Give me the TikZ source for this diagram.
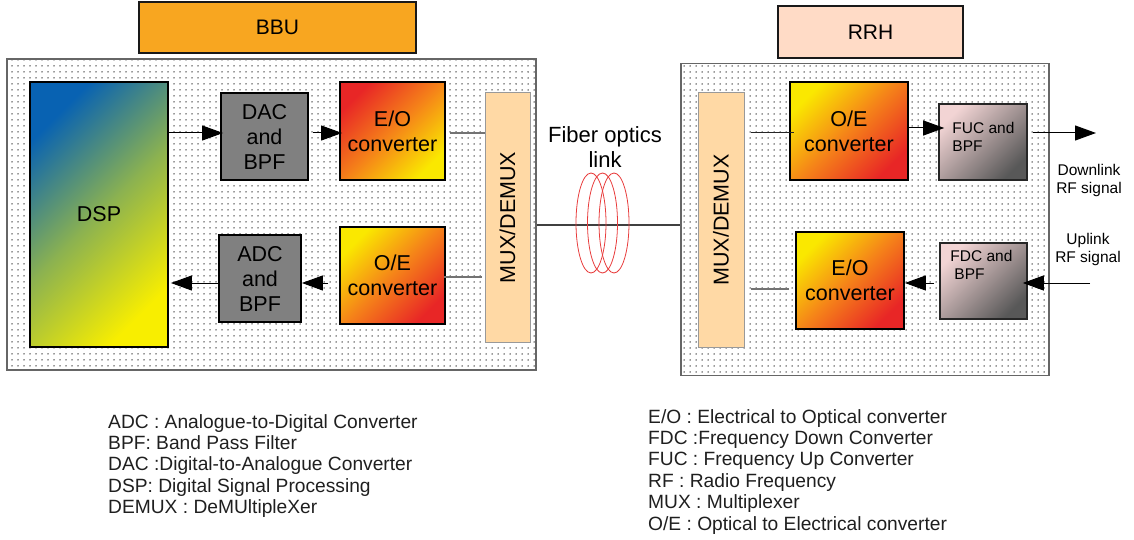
\documentclass[tikz,border=0pt]{standalone}
\usepackage{fontspec}
\setmainfont{Liberation Sans}
\usetikzlibrary{arrows.meta,patterns.meta,calc}
\definecolor{bbuorange}{RGB}{248,166,32}
\definecolor{rrhpeach}{RGB}{255,219,198}
\definecolor{muxfill}{RGB}{255,217,165}
\definecolor{cred}{RGB}{232,38,38}
\definecolor{corange}{RGB}{245,130,25}
\definecolor{cyellow}{RGB}{250,232,0}
\definecolor{dblue}{RGB}{8,98,178}
\definecolor{dgreen}{RGB}{140,178,80}
\definecolor{dyellow}{RGB}{248,238,0}
\definecolor{fpink}{RGB}{242,212,212}
\definecolor{fdark}{RGB}{88,88,88}
\definecolor{coilred}{RGB}{232,60,60}
\begin{document}
\begin{tikzpicture}[x=1pt,y=-1pt,
  cont/.style={draw=black!60, line width=1.2pt, pattern={Dots[distance=6pt,radius=0.75pt]}, pattern color=black!80, inner sep=0pt},
  title/.style={draw=black!90, line width=1.8pt, inner sep=0pt, font=\fontsize{21}{25}\selectfont},
  blk/.style={draw=black, line width=1.8pt, inner sep=0pt, align=center, font=\fontsize{21.5}{25}\selectfont},
  grayblk/.style={blk, fill=black!50},
  redyel/.style={blk, top color=cred, bottom color=cyellow, middle color=corange, shading angle=45},
  yelred/.style={blk, top color=cyellow, bottom color=cred, middle color=corange, shading angle=45},
  dspblk/.style={blk, top color=dblue, bottom color=dyellow, middle color=dgreen, shading angle=45},
  fblk/.style={draw=black!85, line width=1.6pt, inner sep=0pt, top color=fpink, bottom color=fdark, shading angle=45},
  muxblk/.style={draw=black!40, line width=1pt, fill=muxfill, inner sep=0pt},
  smalltxt/.style={font=\fontsize{15.5}{18}\selectfont, align=left, inner sep=0pt},
  arr/.style={draw=black, line width=1pt, -{Triangle[length=21pt,width=15pt]}},
  glink/.style={draw=black!55, line width=1.3pt},
  coil/.style={draw=coilred, line width=0.8pt},
  legend/.style={font=\fontsize{19.2}{21.4}\selectfont, align=left, inner sep=0pt, anchor=north west, text=black!88}
]
\useasboundingbox (0,0) rectangle (1134,540);

% containers
\node[cont, minimum width=529, minimum height=311] (bbuc) at (271.5,214.5) {};
\node[cont, minimum width=368, minimum height=312] (rrhc) at (865,219.75) {};

% titles
\node[title, fill=bbuorange, minimum width=277, minimum height=51] (bbu) at (277.5,27.5) {BBU};
\node[title, fill=rrhpeach, minimum width=185, minimum height=52] (rrh) at (870.5,32) {RRH};

% BBU blocks
\node[dspblk, minimum width=138, minimum height=265] (dsp) at (99,214.5) {DSP};
\node[grayblk, minimum width=87, minimum height=87] (dac) at (264.5,136.5) {DAC\\and\\BPF};
\node[redyel, minimum width=105, minimum height=98] (eo1) at (392.5,131) {E/O\\converter};
\node[grayblk, minimum width=82, minimum height=87] (adc) at (260,278.5) {ADC\\and\\BPF};
\node[yelred, minimum width=105, minimum height=97] (oe1) at (392.5,275.5) {O/E\\converter};
\node[muxblk, minimum width=45, minimum height=249,
  label={[rotate=90, font=\fontsize{21.5}{25}\selectfont]center:MUX/DEMUX}] (mux1) at (507.5,217.5) {};

% RRH blocks
\node[muxblk, minimum width=46, minimum height=254,
  label={[rotate=90, font=\fontsize{21.5}{25}\selectfont]center:MUX/DEMUX}] (mux2) at (721,220) {};
\node[yelred, minimum width=118, minimum height=98] (oe2) at (849,131) {O/E\\converter};
\node[yelred, minimum width=108, minimum height=97] (eo2) at (850,280.5) {E/O\\converter};
\node[fblk, minimum width=88, minimum height=76,
  label={[smalltxt, anchor=north west, xshift=14pt, yshift=-19pt]north west:FUC and\\BPF}] (fuc) at (983,142) {};
\node[fblk, minimum width=87, minimum height=76,
  label={[smalltxt, anchor=north west, xshift=11pt, yshift=-8pt]north west:FDC and\\\hspace*{4pt}BPF}] (fdc) at (983.5,281) {};

% free texts
\node[font=\fontsize{22}{25}\selectfont, align=center, inner sep=0pt] (fibertxt) at (605,147.5) {Fiber optics\\link};
\node[smalltxt, align=center] (dltxt) at (1089,180) {Downlink\\RF signal};
\node[smalltxt, align=center] (ultxt) at (1088,249.5) {Uplink\\RF signal};

\coordinate (dlout) at (1096,133);
\coordinate (ulin) at (1090,283);

% fiber link
\draw[draw=black!75, line width=1.2pt] (bbuc.east |- 0,225) -- (rrhc.west |- 0,225);
\draw[coil] (591,223) ellipse [x radius=15, y radius=50];
\draw[coil] (602.5,223) ellipse [x radius=15, y radius=50];
\draw[coil] (614,223) ellipse [x radius=15, y radius=50];

% BBU connectors
\draw[arr, shorten >=-3pt] (dsp.east |- 0,133) -- (dac.west |- 0,133);
\draw[arr, shorten <=4pt, shorten >=-3pt] (dac.east |- 0,133) -- (eo1.west |- 0,133);
\draw[glink, shorten <=4pt] (eo1.east |- 0,133) -- (mux1.west |- 0,133);
\draw[glink, shorten <=3pt, shorten >=-2pt] (mux1.west |- 0,277) -- (oe1.east |- 0,277);
\draw[arr, shorten <=11pt] (oe1.west |- 0,283) -- (adc.east |- 0,283);
\draw[arr, shorten >=2pt] (adc.west |- 0,283) -- (dsp.east |- 0,283);

% RRH connectors
\draw[glink, draw=black!85, line width=1pt, shorten <=6pt, shorten >=-5pt] (mux2.east |- 0,133) -- (oe2.west |- 0,133);
\draw[arr, shorten >=-6pt] (oe2.east |- 0,128) -- (fuc.west |- 0,128);
\draw[arr, shorten <=5pt] (fuc.east |- 0,133) -- (dlout);
\draw[arr, shorten >=-5pt] (ulin) -- (fdc.east |- 0,283);
\draw[arr, shorten <=5pt] (fdc.west |- 0,283) -- (eo2.east |- 0,283);
\draw[glink, shorten <=6pt, shorten >=6pt] (eo2.west |- 0,289) -- (mux2.east |- 0,289);

% legends
\node[legend] (leg1) at (108,414) {ADC : Analogue-to-Digital Converter\\BPF: Band Pass Filter\\DAC :Digital-to-Analogue Converter\\DSP: Digital Signal Processing\\DEMUX : DeMUltipleXer};
\node[legend] (leg2) at (648,409) {E/O : Electrical to Optical converter\\FDC :Frequency Down Converter\\FUC : Frequency Up Converter\\RF : Radio Frequency\\MUX : Multiplexer\\O/E : Optical to Electrical converter};
\end{tikzpicture}
\end{document}
